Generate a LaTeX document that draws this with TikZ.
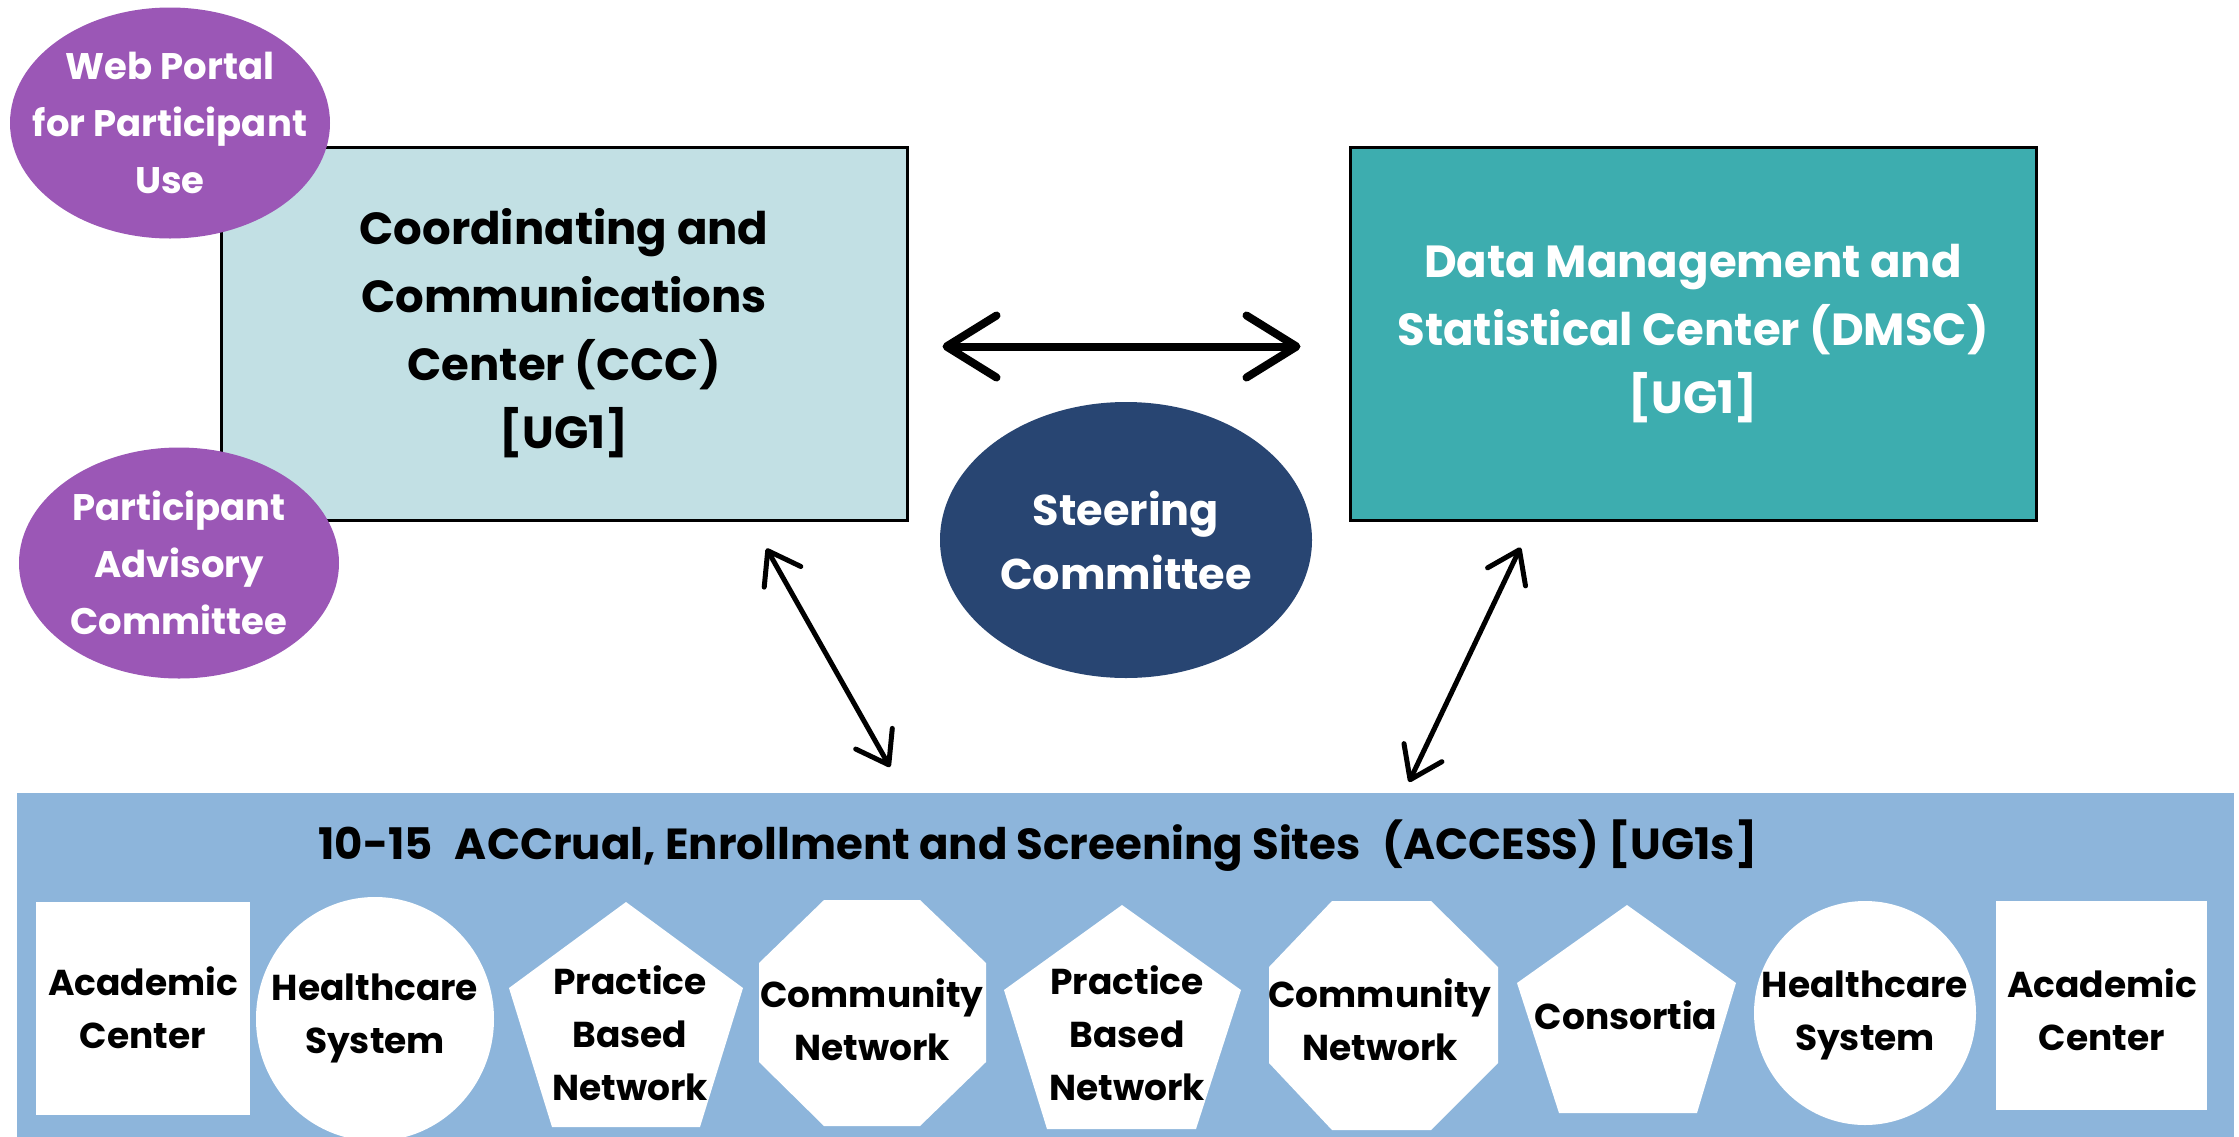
\documentclass[tikz,border=0pt]{standalone}
\usepackage{fontspec}
\setmainfont{Poppins}
\usetikzlibrary{arrows.meta,calc,shapes.geometric}
\definecolor{cccfill}{HTML}{C2E0E4}
\definecolor{dmscfill}{HTML}{3DADAF}
\definecolor{purp}{HTML}{9B57B6}
\definecolor{navy}{HTML}{284572}
\definecolor{bandblue}{HTML}{8DB5DB}
\newcommand{\fsz}[2]{\fontsize{#1}{#2}\selectfont\bfseries}
\begin{document}
\begin{tikzpicture}[x=1pt,y=-1pt,
  centerbox/.style={draw=black,line width=3pt,minimum width=686pt,minimum height=373pt,inner sep=0pt,align=center,font=\fsz{45}{68}},
  purpleell/.style={ellipse,fill=purp,inner sep=0pt,minimum width=320pt,minimum height=231pt},
  purptxt/.style={text=white,align=center,font=\fsz{37}{57},inner sep=0pt},
  shapetxt/.style={text=black,align=center,font=\fsz{36}{53},inner sep=0pt},
  whiterect/.style={fill=white,inner sep=0pt},
  thickarrow/.style={line width=8pt,line cap=round,{Straight Barb[length=50pt,width=62pt,round]}-{Straight Barb[length=50pt,width=62pt,round]}},
  diagarrow/.style={line width=5pt,{Straight Barb[length=30pt,width=42pt,round]}-{Straight Barb[length=30pt,width=42pt,round]}}
]
\useasboundingbox (0,0) rectangle (2239,1136);
\fill[white] (0,0) rectangle (2239,1136);

% top boxes
\node[centerbox,fill=cccfill] (ccc) at (564,333.5) {Coordinating and\\Communications\\Center (CCC)\\{[UG1]}};
\node[centerbox,fill=dmscfill,text=white] (dmsc) at (1693,333.5) {Data Management and\\Statistical Center (DMSC)\\{[UG1]}};

% purple ellipses
\node[purpleell] (web) at (170,123) {};
\node[purptxt] (webtxt) at (web.center) {Web Portal\\for Participant\\Use};
\node[purpleell] (pac) at (179,563) {};
\node[purptxt] (pactxt) at (pac.center) {Participant\\Advisory\\Committee};

% steering
\node[ellipse,fill=navy,inner sep=0pt,minimum width=372pt,minimum height=276pt] (steer) at (1126,540) {};
\node[text=white,align=center,font=\fsz{43}{64},inner sep=0pt] (steertxt) at (steer.center) {Steering\\Committee};

% band
\node[fill=bandblue,anchor=north west,inner sep=0pt,minimum width=2217pt,minimum height=345pt] (band) at (17,793) {};
\node[font=\fsz{43.5}{50},inner sep=0pt] (title) at (1038,846) {10-15\hspace{0.5em}ACCrual, Enrollment and Screening Sites\hspace{0.5em}(ACCESS) [UG1s]};

% bottom shapes
\node[whiterect,minimum width=214pt,minimum height=213pt] (ac1) at (143,1008) {};
\node[ellipse,fill=white,inner sep=0pt,minimum width=238pt,minimum height=244pt] (hs1) at (375,1019) {};
\fill[white] (626,902) -- (743,988) -- (700,1127) -- (552,1127) -- (509,988) -- cycle;
\fill[white] (824,900) -- (920,900) -- (986,963) -- (986,1062) -- (920,1126) -- (824,1126) -- (759,1062) -- (759,963) -- cycle;
\fill[white] (1122,905) -- (1241,990) -- (1196,1129) -- (1047,1129) -- (1004,990) -- cycle;
\fill[white] (1332,901) -- (1431,901) -- (1498,967) -- (1498,1063) -- (1431,1130) -- (1332,1130) -- (1269,1063) -- (1269,967) -- cycle;
\fill[white] (1627,905) -- (1736,983) -- (1697,1113) -- (1559,1113) -- (1517,983) -- cycle;
\node[ellipse,fill=white,inner sep=0pt,minimum width=222pt,minimum height=224pt] (hs2) at (1865,1013) {};
\node[whiterect,minimum width=211pt,minimum height=209pt] (ac2) at (2101.5,1005.5) {};

\node[shapetxt] (ac1txt) at (143,1008) {Academic\\Center};
\node[shapetxt] (hs1txt) at (375,1018) {Healthcare\\System};
\node[shapetxt] (pbn1) at (630,1033) {Practice\\Based\\Network};
\node[shapetxt] (cn1) at (872,1020) {Community\\Network};
\node[shapetxt] (pbn2) at (1127,1033) {Practice\\Based\\Network};
\node[shapetxt] (cn2) at (1380,1020) {Community\\Network};
\node[shapetxt] (cons) at (1626,1015) {Consortia};
\node[shapetxt] (hs2txt) at (1865,1015) {Healthcare\\System};
\node[shapetxt] (ac2txt) at (2102,1010) {Academic\\Center};

% arrows
\draw[thickarrow] ($(ccc.east)+(34,13)$) -- ($(dmsc.west)+(-48,13)$);
\draw[diagarrow] ($(ccc.south east)+(-142,27)$) -- ($(band.north west)+(873,-26)$);
\draw[diagarrow] ($(dmsc.south west)+(172,26)$) -- ($(band.north west)+(1392,-11)$);
\end{tikzpicture}
\end{document}
